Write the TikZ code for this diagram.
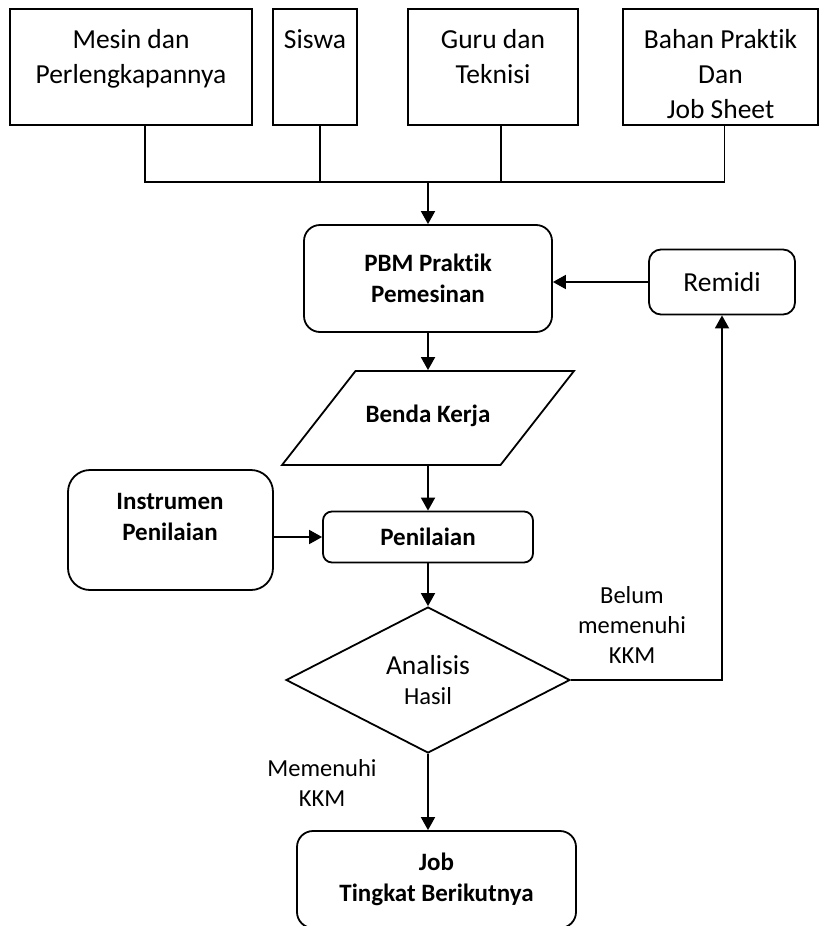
\documentclass[tikz,border=0pt]{standalone}
\usepackage{fontspec}
\setmainfont{Carlito}[Ligatures=NoCommon]
\usepackage{tikz}
\usetikzlibrary{positioning,shapes.geometric,arrows.meta}
\newcommand{\bigtxt}{\fontsize{27.5}{35}\selectfont}
\newcommand{\smalltxt}{\fontsize{24.5}{30}\selectfont}
\newcommand{\boldtxt}{\fontsize{25}{30.5}\selectfont\bfseries}
\tikzset{
  srcbox/.style={draw, minimum height=116pt, inner sep=0pt},
  srctext/.style={font=\bigtxt, align=center, inner sep=0pt},
  procbox/.style={draw, rounded corners=#1, align=center, inner sep=0pt, font=\boldtxt},
  iobox/.style={draw, trapezium, trapezium left angle=52, trapezium right angle=128,
                text width=145pt, text height=51pt, text depth=43pt, align=flush center, inner sep=0pt, font=\boldtxt},
  decision/.style={draw, diamond, minimum width=284pt, minimum height=146pt, inner sep=0pt, align=center, font=\smalltxt},
  cond/.style={font=\smalltxt, align=center, inner sep=0pt},
  arr/.style={-{Triangle[length=13pt, width=14pt]}}
}

\begin{document}
\begin{tikzpicture}[x=1pt, y=-1pt, line width=1.8pt]
  \clip (0,0) rectangle (820,926);

  % sumber masukan
  \node[srcbox, minimum width=242pt] (mesin) at (131,67) {};
  \node[srcbox, minimum width=84pt] (siswa) at (315,67) {};
  \node[srcbox, minimum width=170pt] (guru) at (493,67) {};
  \node[srcbox, minimum width=195pt] (bahan) at (720.5,67) {};
  \node[srctext, below=20pt of mesin.north] (mesintxt) {Mesin dan\\Perlengkapannya};
  \node[srctext, below=21pt of siswa.north] (siswatxt) {Siswa};
  \node[srctext, below=20pt of guru.north] (gurutxt) {Guru dan\\Teknisi};
  \node[srctext, below=20pt of bahan.north] (bahantxt) {Bahan Praktik\\Dan\\Job Sheet};
  \coordinate (bus) at (428,182);

  % alur utama
  \node[procbox=16pt, minimum width=248pt, minimum height=107pt] (pbm) at (428,278.5) {PBM Praktik\\Pemesinan};
  \node[procbox=12pt, minimum width=146pt, minimum height=65pt, font=\bigtxt] (remidi) at (722,282) {Remidi};
  \node[iobox] (benda) at (428,418) {Benda Kerja};
  \node[procbox=22pt, minimum width=205pt, minimum height=120pt] (instrumen) at (170.5,530) {};
  \node[font=\boldtxt, align=center, inner sep=0pt] (instrumentxt) at (170,517) {Instrumen\\Penilaian};
  \node[procbox=9pt, minimum width=210pt, minimum height=51pt] (penilaian) at (428,537) {Penilaian};
  \node[decision] (analisis) at (428,680) {{\bigtxt Analisis}\\Hasil};
  \node[procbox=16pt, minimum width=279pt, minimum height=97pt] (job) at (436.5,879.5) {Job\\Tingkat Berikutnya};

  \node[cond] (belum) at (632,625) {Belum\\memenuhi\\KKM};
  \node[cond] (memenuhi) at (322,783) {Memenuhi\\KKM};

  \draw ([xshift=14pt]mesin.south) |- (bus);
  \draw ([xshift=5pt]siswa.south) |- (bus);
  \draw ([xshift=8pt]guru.south) |- (bus);
  \draw ([xshift=4pt]bahan.south) |- (bus);
  \draw[arr] (bus) -- (pbm);
  \draw[arr] (remidi.west) -- (remidi.west -| pbm.east);
  \draw[arr] (pbm) -- (benda);
  \draw[arr] (benda) -- (penilaian);
  \draw[arr] (penilaian.west -| instrumen.east) -- (penilaian.west);
  \draw[arr] (penilaian) -- (analisis);
  \draw[arr] (analisis.east) -| (remidi.south);
  \draw[arr] (analisis.south) -- (analisis.south |- job.north);
\end{tikzpicture}
\end{document}
